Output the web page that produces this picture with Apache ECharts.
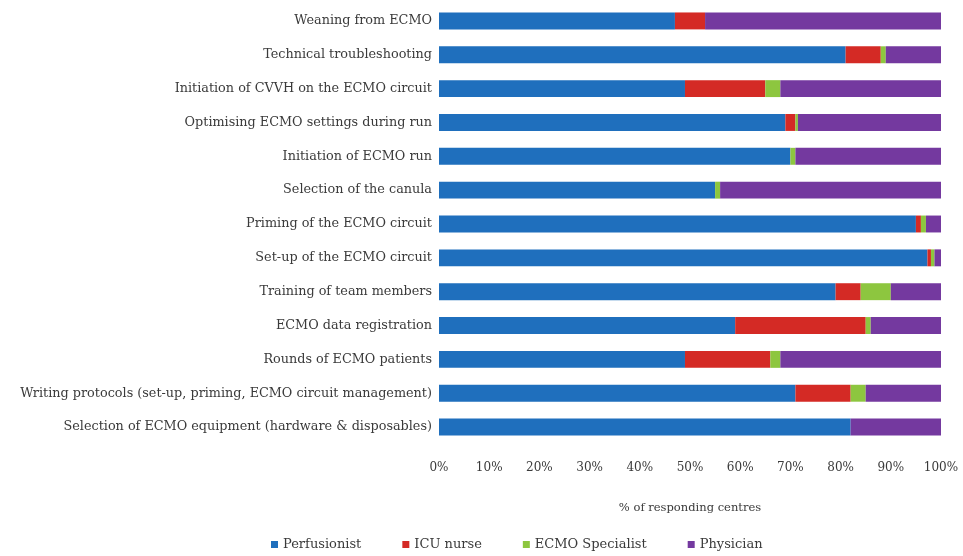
<!DOCTYPE html>
<html>
<head>
<meta charset="utf-8">
<script src="https://cdn.jsdelivr.net/npm/echarts@6/dist/echarts.min.js"></script>
<style>
  html, body { margin: 0; padding: 0; background: #fff; }
  #chart { width: 963px; height: 556px; }
</style>
</head>
<body>
<div id="chart"></div>
<script>
// tareas (de arriba a abajo)
const tasks = [
  "Weaning from ECMO",
  "Technical troubleshooting",
  "Initiation of CVVH on the ECMO circuit",
  "Optimising ECMO settings during run",
  "Initiation of ECMO run",
  "Selection of the canula",
  "Priming of the ECMO circuit",
  "Set-up of the ECMO circuit",
  "Training of team members",
  "ECMO data registration",
  "Rounds of ECMO patients",
  "Writing protocols (set-up, priming, ECMO circuit management)",
  "Selection of ECMO equipment (hardware & disposables)"
];

// % de centros por profesional
const perfusionist = [47, 81, 49, 69, 70, 55, 95, 97.3, 79, 59, 49, 71, 82];
const icuNurse     = [6, 7, 16, 2, 0, 0, 1, 0.7, 5, 26, 17, 11, 0];
const ecmoSpec     = [0, 1, 3, 0.5, 1, 1, 1, 0.7, 6, 1, 2, 3, 0];
const physician    = [47, 11, 32, 28.5, 29, 44, 3, 1.3, 10, 14, 32, 15, 18];

const xTicks = [0, 10, 20, 30, 40, 50, 60, 70, 80, 90, 100];

const font = "DejaVu Serif";
const colors = ["#1f6fbd", "#d42a25", "#8dc63f", "#74399f"];

const chart = echarts.init(document.getElementById("chart"));

const mkSerie = (name, data) => ({
  name: name,
  type: "bar",
  stack: "total",
  barWidth: "50%",
  data: data
});

chart.setOption({
  color: colors,
  animation: false,
  grid: { left: 439, right: 22, top: 4, bottom: 112 },
  legend: {
    data: ["Perfusionist", "ICU nurse", "ECMO Specialist", "Physician"],
    left: 266,
    top: 533,
    icon: "rect",
    itemWidth: 7,
    itemHeight: 7,
    itemGap: 41,
    textStyle: { fontFamily: font, fontSize: 13, color: "#3a3a3a" }
  },
  xAxis: {
    type: "value",
    min: xTicks[0],
    max: xTicks[xTicks.length - 1],
    interval: 10,
    name: "% of responding centres",
    nameLocation: "middle",
    nameGap: 58,
    nameTextStyle: { fontFamily: font, fontSize: 11.5, color: "#3a3a3a" },
    axisLabel: {
      formatter: "{value}%",
      margin: 18,
      fontFamily: font,
      fontSize: 12,
      color: "#3a3a3a"
    },
    axisLine: { show: false },
    axisTick: { show: false },
    splitLine: { show: false }
  },
  yAxis: {
    type: "category",
    data: tasks,
    inverse: true,
    axisLabel: { fontFamily: font, fontSize: 12.8, color: "#3a3a3a", margin: 7 },
    axisLine: { show: false },
    axisTick: { show: false }
  },
  series: [
    mkSerie("Perfusionist", perfusionist),
    mkSerie("ICU nurse", icuNurse),
    mkSerie("ECMO Specialist", ecmoSpec),
    mkSerie("Physician", physician)
  ]
});

window.addEventListener("resize", () => chart.resize());
</script>
</body>
</html>
